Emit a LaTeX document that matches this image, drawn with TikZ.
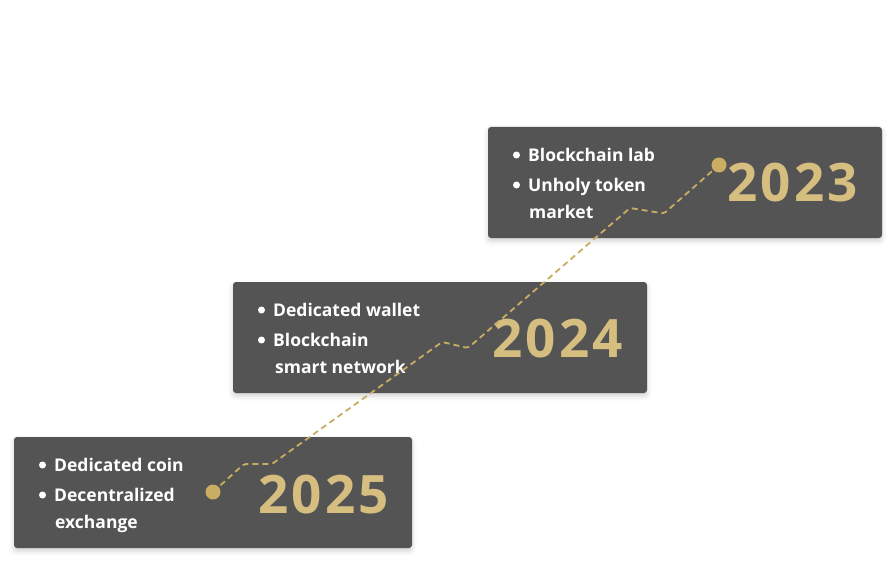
\documentclass[tikz,border=0pt]{standalone}
\usepackage{fontspec}
\setmainfont{Open Sans}
\newfontfamily\yearfont{Open Sans}[LetterSpace=6]
\usetikzlibrary{shadows.blur}
\definecolor{boxgray}{HTML}{545454}
\definecolor{gold}{HTML}{D5BE80}
\definecolor{dotgold}{HTML}{C8AD62}
\tikzset{
  card/.style={fill=boxgray, rounded corners=3pt, inner sep=0pt,
    blur shadow={shadow xshift=0pt, shadow yshift=-3pt, shadow blur radius=5pt, shadow opacity=18}},
  item/.style={anchor=base west, inner sep=0pt, text=white, font=\bfseries\fontsize{17.5}{20}\selectfont},
  yeartext/.style={anchor=base west, inner sep=0pt, text=gold, font=\yearfont\bfseries\fontsize{53}{60}\selectfont},
  bulletdot/.style={circle, fill=white, inner sep=0pt, minimum size=7pt},
  enddot/.style={circle, fill=dotgold, inner sep=0pt, minimum size=15pt},
  trail/.style={dotgold, line width=1.8pt, dash pattern=on 6pt off 4pt, rounded corners=2pt}
}
\begin{document}
\begin{tikzpicture}[x=1pt,y=-1pt]
\useasboundingbox (0,0) rectangle (896,567);
% cards
\node[card, minimum width=394pt, minimum height=111pt] (c23) at (685,182.5) {};
\node[card, minimum width=414pt, minimum height=111pt] (c24) at (440,337.5) {};
\node[card, minimum width=398pt, minimum height=111pt] (c25) at (213,492.5) {};
% 2023
\node[bulletdot] (b231) at (516.5,155) {};
\node[bulletdot] (b232) at (516.5,185) {};
\node[item] (t231) at (528,161) {Blockchain lab};
\node[item] (t232) at (528,191.5) {Unholy token};
\node[item] (t233) at (529,218) {market};
\node[yeartext] (y23) at (727,201) {2023};
% 2024
\node[bulletdot] (b241) at (261.5,310) {};
\node[bulletdot] (b242) at (261.5,340) {};
\node[item] (t241) at (273,316) {Dedicated wallet};
\node[item] (t242) at (273,346.5) {Blockchain};
\node[item] (t243) at (275,373) {smart network};
\node[yeartext] (y24) at (492,357) {2024};
% 2025
\node[bulletdot] (b251) at (42.5,465) {};
\node[bulletdot] (b252) at (42.5,495) {};
\node[item] (t251) at (54,471) {Dedicated coin};
\node[item] (t252) at (54,501.5) {Decentralized};
\node[item] (t253) at (55,528) {exchange};
\node[yeartext] (y25) at (258,513) {2025};
% trail
\coordinate (p0) at (213,492);
\coordinate (p1) at (244,464);
\coordinate (p2) at (272,464);
\coordinate (p3) at (442,342);
\coordinate (p4) at (468,348);
\coordinate (p5) at (630,208);
\coordinate (p6) at (664,213.5);
\coordinate (p7) at (719,165);
\draw[trail] (p0) -- (p1) -- (p2) -- (p3) -- (p4) -- (p5) -- (p6) -- (p7);
\node[enddot] (dstart) at (p0) {};
\node[enddot] (dend) at (p7) {};
\end{tikzpicture}
\end{document}
